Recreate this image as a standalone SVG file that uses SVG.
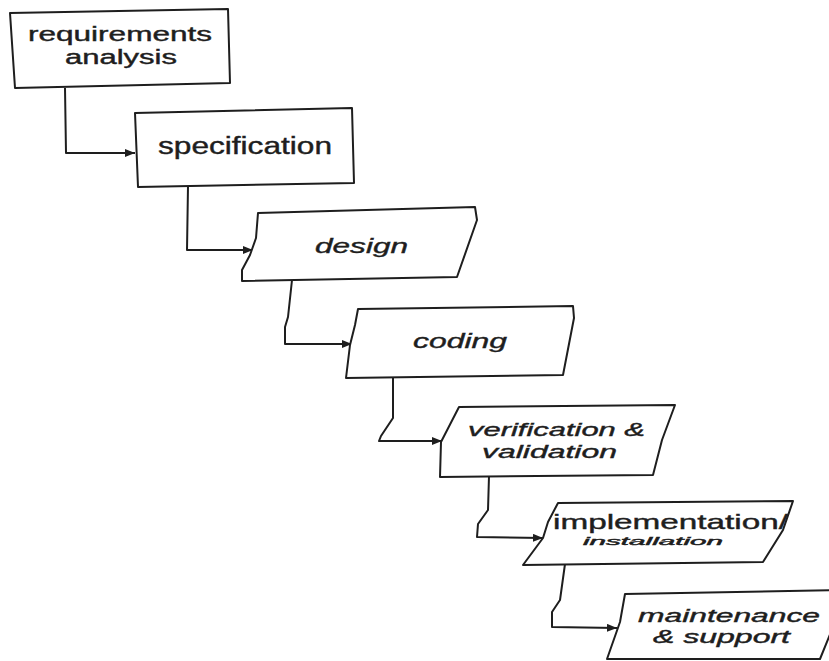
<svg xmlns="http://www.w3.org/2000/svg" width="829" height="661" viewBox="0 0 829 661">
  <defs>
    <marker id="arrow" viewBox="0 0 10 8" refX="10" refY="4" markerWidth="10" markerHeight="8" markerUnits="userSpaceOnUse" orient="auto">
      <path d="M0,0 L10,4 L0,8 Z" fill="#1e1e1e"/>
    </marker>
    <style>
      .box { fill: #ffffff; stroke: #1e1e1e; stroke-width: 2; stroke-linejoin: round; }
      .link { fill: none; stroke: #1e1e1e; stroke-width: 2; stroke-linejoin: round; marker-end: url(#arrow); }
      .lbl { font-family: "Liberation Sans", Arial, sans-serif; font-size: 23px; fill: #1e1e1e; stroke: #1e1e1e; stroke-width: 0.4; }
      .two { font-size: 20px; }
      .it { font-style: italic; font-size: 21px; }
      .it2 { font-style: italic; font-size: 19px; }
      .sm { font-style: italic; font-size: 10px; }
    </style>
  </defs>
  <rect width="829" height="661" fill="#ffffff"/>

  <!-- connectors between the phases -->
  <g id="connectors">
    <path class="link" d="M65,88 L66,153 L135,153"/>
    <path class="link" d="M188,186 L187,250 L253,250"/>
    <path class="link" d="M292,280 L288,317 L285,327 L285,344 L352,344"/>
    <path class="link" d="M393,377 L393,418 L381,436 L379,441 L442,441"/>
    <path class="link" d="M489,476 L488,510 L478,524 L477,537 L543,538"/>
    <path class="link" d="M565,564 L560,600 L552,612 L552,627 L617,628"/>
  </g>

  <g id="requirements-analysis">
    <path class="box" d="M10,13 L228,9 L230,83 L15,88 Z"/>
    <text class="lbl two" x="28" y="41" textLength="184" lengthAdjust="spacingAndGlyphs">requirements</text>
    <text class="lbl two" x="65" y="64" textLength="112" lengthAdjust="spacingAndGlyphs">analysis</text>
  </g>

  <g id="specification">
    <path class="box" d="M135,113 L352,108 L354,183 L138,187 Z"/>
    <text class="lbl" x="158" y="154" textLength="174" lengthAdjust="spacingAndGlyphs">specification</text>
  </g>

  <g id="design">
    <path class="box" d="M258,213 L475,207 L477,220 L457,277 L242,281 L242,270 L250,255 L256,238 Z"/>
    <text class="lbl it" x="315" y="253" textLength="93" lengthAdjust="spacingAndGlyphs">design</text>
  </g>

  <g id="coding">
    <path class="box" d="M358,309 L573,306 L574,318 L563,375 L346,378 L350,345 L355,325 Z"/>
    <text class="lbl it" x="413" y="348" textLength="94" lengthAdjust="spacingAndGlyphs">coding</text>
  </g>

  <g id="verification-validation">
    <path class="box" d="M459,407 L675,405 L662,440 L653,475 L440,477 L441,442 Z"/>
    <text class="lbl it2" x="468" y="436" textLength="177" lengthAdjust="spacingAndGlyphs">verification &amp;</text>
    <text class="lbl it2" x="482" y="458" textLength="135" lengthAdjust="spacingAndGlyphs">validation</text>
  </g>

  <g id="implementation-installation">
    <path class="box" d="M558,503 L793,501 L783,530 L763,562 L523,565 L543,538 L548,522 Z"/>
    <text class="lbl" x="553" y="529" style="font-size:21px" textLength="235" lengthAdjust="spacingAndGlyphs">implementation/</text>
    <text class="lbl sm" x="583" y="545" textLength="140" lengthAdjust="spacingAndGlyphs">installation</text>
  </g>

  <g id="maintenance-support">
    <path class="box" d="M625,594 L840,590 L835,622 L820,659 L607,659 L620,622 Z"/>
    <text class="lbl it2" style="font-size:18px" x="638" y="622" textLength="182" lengthAdjust="spacingAndGlyphs">maintenance</text>
    <text class="lbl it2" style="font-size:18px" x="653" y="643" textLength="137" lengthAdjust="spacingAndGlyphs">&amp; support</text>
  </g>
</svg>
